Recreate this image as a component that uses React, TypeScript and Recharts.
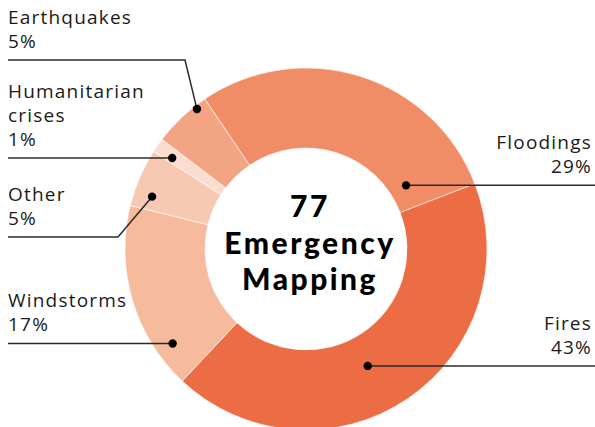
import React from "react";
import { PieChart, Pie, Cell } from "recharts";

// Number of emergency mapping activations per category (total 77)
const categories = ["Floodings", "Fires", "Windstorms", "Other", "Humanitarian crises", "Earthquakes"];
const counts = [22, 33, 13, 4, 1, 4];
const percentLabels = ["29%", "43%", "17%", "5%", "1%", "5%"];
const labelLines = [["Floodings"], ["Fires"], ["Windstorms"], ["Other"], ["Humanitarian", "crises"], ["Earthquakes"]];
const colors = ["#F18D66", "#EC6C43", "#F6BA9C", "#F8C9B2", "#FBDDCF", "#F3A583"];
const centerLines = ["77", "Emergency", "Mapping"];

// Label layout: where the dot sits inside its slice (fraction of the angle, fraction of the band)
const labelLayout = [
  { side: "right", f: 0.89, g: 0.22 },
  { side: "right", f: 0.54, g: 0.39 },
  { side: "left", f: 0.19, g: 0.78 },
  { side: "left", f: 0.26, g: 0.77, lineY: 237, elbowX: 118 },
  { side: "left", f: 0.34, g: 0.76 },
  { side: "left", f: 0.79, g: 0.955, lineY: 60, elbowX: 185 },
];

const data = categories.map((name, i) => ({ name, value: counts[i], pct: percentLabels[i] }));

const W = 595;
const H = 427;
const RAD = Math.PI / 180;
const FONT = "'Open Sans', 'Noto Sans', sans-serif";
const CENTER_FONT = "Lato, 'Open Sans', sans-serif";

const renderLabel = (props: any) => {
  const { cx, cy, innerRadius, outerRadius, startAngle, endAngle, index } = props;
  const lay = labelLayout[index];
  const a = startAngle + lay.f * (endAngle - startAngle);
  const r = innerRadius + lay.g * (outerRadius - innerRadius);
  const dx = cx + r * Math.cos(-a * RAD);
  const dy = cy + r * Math.sin(-a * RAD);
  const lineY = lay.lineY !== undefined ? lay.lineY : dy;
  const lines = [...labelLines[index], percentLabels[index]];
  const isLeft = lay.side === "left";
  const tx = isLeft ? 8 : W - 3;
  let path: string;
  if (isLeft) {
    if (lay.elbowX !== undefined) path = `M8,${lineY}L${lay.elbowX},${lineY}L${dx},${dy}`;
    else path = `M8,${lineY}L${dx},${lineY}`;
  } else {
    path = `M${dx},${lineY}L${W},${lineY}`;
  }
  return (
    <g key={`lbl-${index}`}>
      <path d={path} stroke="#2a2a2a" strokeWidth={1.5} fill="none" />
      <circle cx={dx} cy={dy} r={4.2} fill="#000" />
      {lines.map((t, j) => (
        <text
          key={j}
          x={tx}
          y={lineY - 12 - 24 * (lines.length - 1 - j)}
          textAnchor={isLeft ? "start" : "end"}
          fontFamily={FONT}
          fontSize={19}
          letterSpacing={1.2}
          fill="#1a1a1a"
        >
          {t}
        </text>
      ))}
      {index === 0 &&
        centerLines.map((t, j) => (
          <text
            key={`c${j}`}
            x={cx + 4}
            y={cy - 32 + 36.5 * j}
            textAnchor="middle"
            fontFamily={CENTER_FONT}
            fontWeight={900}
            fontSize={30}
            letterSpacing={2.5}
            fill="#000"
          >
            {t}
          </text>
        ))}
    </g>
  );
};

export default function App() {
  return (
    <div style={{ position: "absolute", left: 0, top: 0, width: W, height: H, background: "#fff" }}>
      <PieChart width={W} height={H} margin={{ top: 0, right: 0, bottom: 0, left: 0 }}>
        <Pie
          data={data}
          dataKey="value"
          nameKey="name"
          cx={306}
          cy={249}
          innerRadius={101}
          outerRadius={181}
          startAngle={124}
          endAngle={-236}
          stroke="#ffffff"
          strokeWidth={0.6}
          label={renderLabel}
          labelLine={false}
          isAnimationActive={false}
        >
          {data.map((d, i) => (
            <Cell key={d.name} fill={colors[i]} />
          ))}
        </Pie>
      </PieChart>
    </div>
  );
}
